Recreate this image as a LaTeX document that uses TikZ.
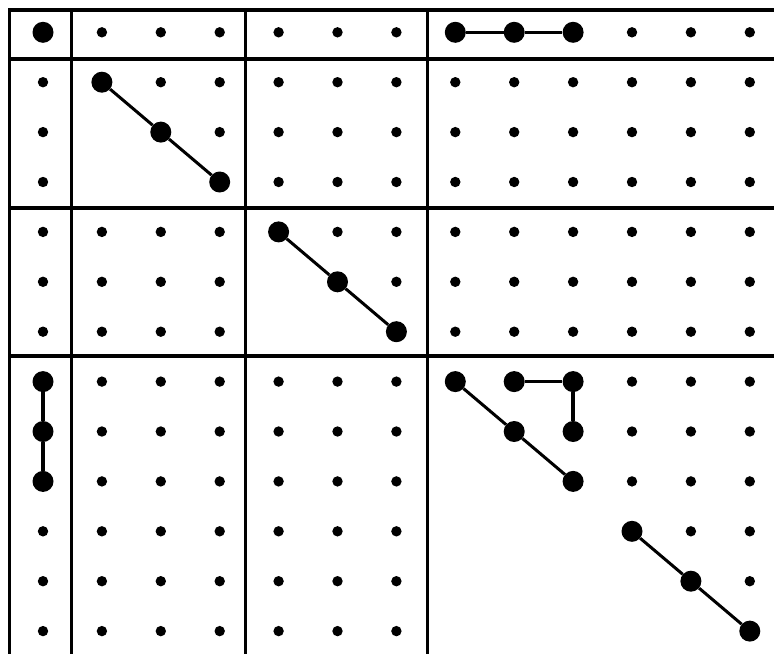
\documentclass[tikz,border=0pt]{standalone}
\begin{document}
\begin{tikzpicture}[x=1pt,y=-1pt,
  smalldot/.style={circle,fill=black,inner sep=0pt,minimum size=10.4pt},
  bigdot/.style={circle,fill=black,inner sep=0pt,minimum size=21pt},
  gridline/.style={line width=3.4pt},
  link/.style={line width=3pt},
  thicklink/.style={line width=4pt}]
\useasboundingbox (0,0) rectangle (774,654);
% grid lines
\foreach \yy in {10,59,208,356} \draw[gridline] (8,\yy) -- (774,\yy);
\foreach \xx in {9.5,71.5,245.5,427.5} \draw[gridline] (\xx,8.3) -- (\xx,654);
% dots
\foreach \r/\S/\B in {
  0/{1,2,3,4,5,6,10,11,12}/{0,7,8,9},
  1/{0,2,3,4,5,6,7,8,9,10,11,12}/{1},
  2/{0,3,4,5,6,7,8,9,10,11,12}/{2},
  3/{0,4,5,6,7,8,9,10,11,12}/{3},
  4/{0,1,2,3,5,6,7,8,9,10,11,12}/{4},
  5/{0,1,2,3,6,7,8,9,10,11,12}/{5},
  6/{0,1,2,3,7,8,9,10,11,12}/{6},
  7/{1,2,3,4,5,6,10,11,12}/{0,7,8,9},
  8/{1,2,3,4,5,6,10,11,12}/{0,8,9},
  9/{1,2,3,4,5,6,10,11,12}/{0,9},
  10/{0,1,2,3,4,5,6,11,12}/{10},
  11/{0,1,2,3,4,5,6,12}/{11},
  12/{0,1,2,3,4,5,6}/{12}}{
  \foreach \c in \S
    \node[smalldot] (n\r-\c) at ({43+58.9*\c},{32.3+49.9*\r}) {};
  \foreach \c in \B
    \node[bigdot] (n\r-\c) at ({43+58.9*\c},{32.3+49.9*\r}) {};
}
% connectors
\draw[link] (n0-7) -- (n0-8) -- (n0-9);
\draw[link] (n1-1) -- (n2-2) -- (n3-3);
\draw[link] (n4-4) -- (n5-5) -- (n6-6);
\draw[thicklink] (n7-0) -- (n8-0) -- (n9-0);
\draw[link] (n7-7) -- (n8-8) -- (n9-9);
\draw[link] (n7-8) -- (n7-9);
\draw[thicklink] (n7-9) -- (n8-9);
\draw[link] (n10-10) -- (n11-11) -- (n12-12);
\end{tikzpicture}
\end{document}
